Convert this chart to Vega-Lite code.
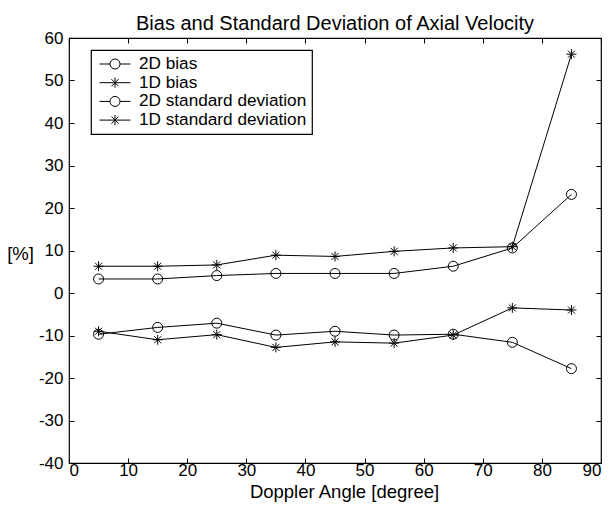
{
  "$schema": "https://vega.github.io/schema/vega-lite/v6.json",
  "width": 532,
  "height": 425,
  "autosize": {"type": "none"},
  "padding": {"left": 69, "top": 38, "right": 12, "bottom": 45},
  "background": "white",
  "title": {
    "text": "Bias and Standard Deviation of Axial Velocity",
    "font": "Liberation Sans",
    "fontSize": 20,
    "fontWeight": "normal",
    "color": "black",
    "anchor": "middle",
    "baseline": "alphabetic",
    "offset": 9,
    "dy": 30
  },
  "config": {
    "view": {"stroke": "black", "strokeWidth": 1.2},
    "font": "Liberation Sans",
    "axis": {
      "grid": false,
      "domain": false,
      "tickColor": "black",
      "tickSize": -5,
      "tickWidth": 1,
      "labelFont": "Liberation Sans",
      "labelFontSize": 17,
      "labelColor": "black",
      "titleFont": "Liberation Sans",
      "titleFontSize": 18.5,
      "titleFontWeight": "normal",
      "titleColor": "black"
    },
    "legend": {
      "strokeColor": "black",
      "fillColor": "white",
      "strokeWidth": 1.2,
      "cornerRadius": 0,
      "padding": 5,
      "labelFont": "Liberation Sans",
      "labelFontSize": 17.2,
      "labelColor": "black",
      "labelLimit": 0,
      "labelOffset": 15,
      "symbolOffset": 10,
      "rowPadding": 0.7,
      "symbolSize": 289,
      "symbolStrokeColor": "black",
      "symbolFillColor": "transparent",
      "symbolStrokeWidth": 1
    }
  },
  "data": {
    "values": [
      {"angle": 5, "value": -9.7, "series": "2D bias"},
      {"angle": 15, "value": -8.1, "series": "2D bias"},
      {"angle": 25, "value": -7.1, "series": "2D bias"},
      {"angle": 35, "value": -9.9, "series": "2D bias"},
      {"angle": 45, "value": -9.0, "series": "2D bias"},
      {"angle": 55, "value": -9.9, "series": "2D bias"},
      {"angle": 65, "value": -9.7, "series": "2D bias"},
      {"angle": 75, "value": -11.6, "series": "2D bias"},
      {"angle": 85, "value": -17.8, "series": "2D bias"},
      {"angle": 5, "value": -9.0, "series": "1D bias"},
      {"angle": 15, "value": -11.0, "series": "1D bias"},
      {"angle": 25, "value": -9.8, "series": "1D bias"},
      {"angle": 35, "value": -12.8, "series": "1D bias"},
      {"angle": 45, "value": -11.5, "series": "1D bias"},
      {"angle": 55, "value": -11.8, "series": "1D bias"},
      {"angle": 65, "value": -9.9, "series": "1D bias"},
      {"angle": 75, "value": -3.5, "series": "1D bias"},
      {"angle": 85, "value": -4.0, "series": "1D bias"},
      {"angle": 5, "value": 3.3, "series": "2D standard deviation"},
      {"angle": 15, "value": 3.3, "series": "2D standard deviation"},
      {"angle": 25, "value": 4.1, "series": "2D standard deviation"},
      {"angle": 35, "value": 4.6, "series": "2D standard deviation"},
      {"angle": 45, "value": 4.6, "series": "2D standard deviation"},
      {"angle": 55, "value": 4.6, "series": "2D standard deviation"},
      {"angle": 65, "value": 6.3, "series": "2D standard deviation"},
      {"angle": 75, "value": 10.6, "series": "2D standard deviation"},
      {"angle": 85, "value": 23.2, "series": "2D standard deviation"},
      {"angle": 5, "value": 6.3, "series": "1D standard deviation"},
      {"angle": 15, "value": 6.3, "series": "1D standard deviation"},
      {"angle": 25, "value": 6.6, "series": "1D standard deviation"},
      {"angle": 35, "value": 8.9, "series": "1D standard deviation"},
      {"angle": 45, "value": 8.6, "series": "1D standard deviation"},
      {"angle": 55, "value": 9.8, "series": "1D standard deviation"},
      {"angle": 65, "value": 10.6, "series": "1D standard deviation"},
      {"angle": 75, "value": 10.9, "series": "1D standard deviation"},
      {"angle": 85, "value": 56.2, "series": "1D standard deviation"}
    ]
  },
  "layer": [
    {
      "mark": {"type": "line", "stroke": "black", "strokeWidth": 1},
      "encoding": {
        "x": {
          "field": "angle", "type": "quantitative",
          "scale": {"domain": [0, 90], "nice": false},
          "axis": {
            "orient": "bottom",
            "values": [0, 10, 20, 30, 40, 50, 60, 70, 80, 90],
            "labelExpr": "'' + datum.value",
            "title": "Doppler Angle [degree]",
            "labelPadding": 4,
            "titleX": 275,
            "titleY": 34,
            "titleAlign": "center",
            "titleBaseline": "alphabetic"
          }
        },
        "y": {
          "field": "value", "type": "quantitative",
          "scale": {"domain": [-40, 60], "nice": false},
          "axis": {
            "orient": "left",
            "values": [-40, -30, -20, -10, 0, 10, 20, 30, 40, 50, 60],
            "labelExpr": "'' + datum.value",
            "title": "[%]",
            "labelPadding": 11,
            "titleAngle": 0,
            "titleX": -49,
            "titleY": 215,
            "titleAlign": "center",
            "titleBaseline": "middle"
          }
        },
        "detail": {"field": "series"},
        "order": {"field": "angle", "type": "quantitative"}
      }
    },
    {
      "mark": {"type": "point", "filled": false, "stroke": "black", "strokeWidth": 1, "size": 100, "opacity": 1},
      "encoding": {
        "x": {
          "field": "angle", "type": "quantitative",
          "axis": {
            "orient": "top",
            "values": [0, 10, 20, 30, 40, 50, 60, 70, 80, 90],
            "labels": false,
            "title": null
          }
        },
        "y": {
          "field": "value", "type": "quantitative",
          "axis": {
            "orient": "right",
            "values": [-40, -30, -20, -10, 0, 10, 20, 30, 40, 50, 60],
            "labels": false,
            "title": null
          }
        },
        "shape": {
          "field": "series", "type": "nominal",
          "scale": {
            "domain": ["2D bias", "1D bias", "2D standard deviation", "1D standard deviation"],
            "range": ["circle", "M-1,0H1M0,-1V1M-0.7,-0.7L0.7,0.7M-0.7,0.7L0.7,-0.7", "circle", "M-1,0H1M0,-1V1M-0.7,-0.7L0.7,0.7M-0.7,0.7L0.7,-0.7"]
          },
          "legend": null
        }
      }
    },
    {
      "transform": [{"filter": "false"}],
      "mark": {"type": "point", "filled": false, "stroke": "black", "strokeWidth": 1, "size": 289, "opacity": 1},
      "encoding": {
        "x": {"field": "angle", "type": "quantitative", "axis": null},
        "y": {"field": "value", "type": "quantitative", "axis": null},
        "shape": {
          "field": "series", "type": "nominal",
          "scale": {
            "domain": ["2D bias", "1D bias", "2D standard deviation", "1D standard deviation"],
            "range": [
              "M-1.82,0H-0.59M0.59,0H1.82M-0.59,0A0.59,0.59 0 1,1 0.59,0A0.59,0.59 0 1,1 -0.59,0",
              "M-1.82,0H1.82M0,-0.59V0.59M-0.42,-0.42L0.42,0.42M-0.42,0.42L0.42,-0.42",
              "M-1.82,0H-0.59M0.59,0H1.82M-0.59,0A0.59,0.59 0 1,1 0.59,0A0.59,0.59 0 1,1 -0.59,0",
              "M-1.82,0H1.82M0,-0.59V0.59M-0.42,-0.42L0.42,0.42M-0.42,0.42L0.42,-0.42"
            ]
          },
          "legend": {
            "title": null,
            "orient": "none",
            "legendX": 22,
            "legendY": 12
          }
        }
      }
    }
  ],
  "resolve": {"axis": {"x": "independent", "y": "independent"}, "scale": {"shape": "independent"}}
}
